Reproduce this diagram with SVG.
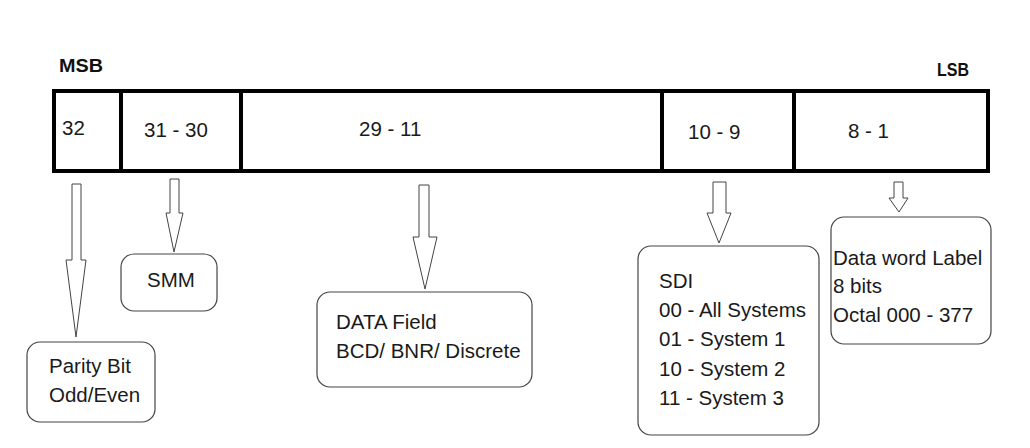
<svg xmlns="http://www.w3.org/2000/svg" width="1030" height="448" viewBox="0 0 1030 448">
<style>
.t{font-family:"Liberation Sans",Arial,sans-serif;font-size:20.5px;fill:#1a1a1a}
.b{font-family:"Liberation Sans",Arial,sans-serif;font-size:19px;font-weight:bold;fill:#111}
.box{fill:#fff;stroke:#444;stroke-width:1.2}
.arr{fill:#fff;stroke:#444;stroke-width:1}
.bar{fill:none;stroke:#000;stroke-width:4}
</style>
<rect width="1030" height="448" fill="#fff"/>
<g id="word">
<rect class="bar" x="54" y="91" width="934" height="80"/>
<line class="bar" x1="121" y1="91" x2="121" y2="171"/>
<line class="bar" x1="241" y1="91" x2="241" y2="171"/>
<line class="bar" x1="662" y1="91" x2="662" y2="171"/>
<line class="bar" x1="794" y1="91" x2="794" y2="171"/>
<text class="b" x="59" y="72" textLength="44" lengthAdjust="spacingAndGlyphs">MSB</text>
<text class="b" x="937" y="76" textLength="32" lengthAdjust="spacingAndGlyphs">LSB</text>
<text class="t" x="62" y="135">32</text>
<text class="t" x="144" y="137">31 - 30</text>
<text class="t" x="359" y="136">29 - 11</text>
<text class="t" x="688" y="139">10 - 9</text>
<text class="t" x="848" y="138">8 - 1</text>
</g>
<g id="connectors">
<polygon class="arr" points="72,184 81,184 81,260 86,260 76,337 66,260 72,260"/>
<polygon class="arr" points="170,179 179,179 179,213 183,213 174,252 166,213 170,213"/>
<polygon class="arr" points="419,185 429,185 429,237 437,237 425,289 413,237 419,237"/>
<polygon class="arr" points="713,182 726,182 726,213 731,213 719,243 707,213 713,213"/>
<polygon class="arr" points="894,182 903,182 903,198 908,198 899,212 889,198 894,198"/>
</g>
<g id="parity">
<rect class="box" x="27" y="342" width="128" height="80" rx="13"/>
<text class="t" x="49" y="373">Parity Bit</text>
<text class="t" x="49" y="402">Odd/Even</text>
</g>
<g id="smm">
<rect class="box" x="121" y="254" width="96" height="57" rx="13"/>
<text class="t" x="171" y="287" text-anchor="middle">SMM</text>
</g>
<g id="data">
<rect class="box" x="317" y="292" width="215" height="95" rx="13"/>
<text class="t" x="336" y="329">DATA Field</text>
<text class="t" x="336" y="358">BCD/ BNR/ Discrete</text>
</g>
<g id="sdi">
<rect class="box" x="638" y="246" width="181" height="189" rx="13"/>
<text class="t" x="659" y="288">SDI</text>
<text class="t" x="659" y="317">00 - All Systems</text>
<text class="t" x="659" y="346">01 - System 1</text>
<text class="t" x="659" y="376">10 - System 2</text>
<text class="t" x="659" y="405">11 - System 3</text>
</g>
<g id="label">
<rect class="box" x="831" y="217" width="160" height="127" rx="13"/>
<text class="t" x="833" y="265">Data word Label</text>
<text class="t" x="833" y="293">8 bits</text>
<text class="t" x="833" y="322">Octal 000 - 377</text>
</g>
</svg>
